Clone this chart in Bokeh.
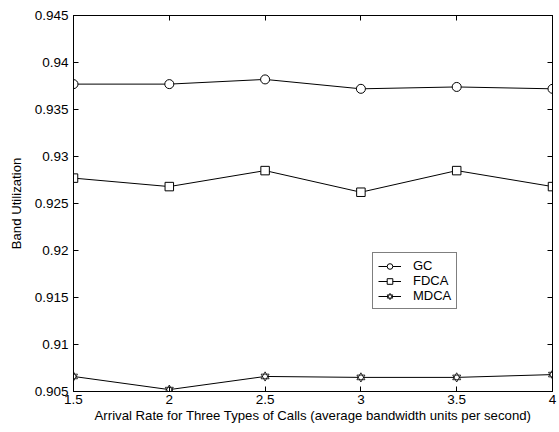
from bokeh.plotting import figure
from bokeh.models import (LinearAxis, FixedTicker, CustomJSTickFormatter, Range1d,
                          Legend, LegendItem)
from bokeh.embed import file_html
from bokeh.resources import INLINE

x = [1.5, 2, 2.5, 3, 3.5, 4]
gc = [0.9377, 0.9377, 0.9382, 0.9372, 0.9374, 0.9372]
fdca = [0.9277, 0.9268, 0.9285, 0.9262, 0.9285, 0.9268]
mdca = [0.9066, 0.9052, 0.9066, 0.9065, 0.9065, 0.9068]
x_ticks = [1.5, 2, 2.5, 3, 3.5, 4]
y_ticks = [0.905, 0.91, 0.915, 0.92, 0.925, 0.93, 0.935, 0.94, 0.945]
x_label = "Arrival Rate for Three Types of Calls (average bandwidth units per second)"
y_label = "Band Utilization"

FONT = "Liberation Sans"

p = figure(width=559, height=432, output_backend="svg", toolbar_location=None,
           x_range=Range1d(1.5, 4), y_range=Range1d(0.905, 0.945),
           min_border_left=73, min_border_right=7, min_border_top=15, min_border_bottom=41,
           x_axis_location=None, y_axis_location=None)
p.grid.visible = False
p.outline_line_color = "black"
p.outline_line_width = 1
p.background_fill_color = "white"
p.border_fill_color = "white"

fmt = CustomJSTickFormatter(code="return String(Math.round(tick*1000)/1000);")
blank = CustomJSTickFormatter(code="return '';")

def style(ax, ticks, labels=True):
    ax.ticker = FixedTicker(ticks=ticks)
    ax.formatter = fmt if labels else blank
    ax.major_tick_in = 5
    ax.major_tick_out = 0
    ax.minor_tick_in = 0
    ax.minor_tick_out = 0
    ax.axis_line_color = "black"
    ax.major_tick_line_color = "black"
    ax.major_label_text_font = FONT
    ax.major_label_text_font_size = "13.5px"
    ax.major_label_text_color = "black"
    ax.axis_label_text_font = FONT
    ax.axis_label_text_font_size = "13.2px"
    ax.axis_label_text_font_style = "normal"
    ax.axis_label_text_color = "black"

bottom = LinearAxis(axis_label=x_label)
style(bottom, x_ticks)
bottom.major_label_standoff = 3
bottom.axis_label_standoff = 1
left = LinearAxis(axis_label=y_label)
style(left, y_ticks)
left.major_label_standoff = 5
left.axis_label_standoff = 8
right = LinearAxis()
style(right, y_ticks, labels=False)
right.major_label_standoff = 0
top = LinearAxis()
style(top, x_ticks, labels=False)
top.major_label_standoff = 0
p.add_layout(bottom, "below")
p.add_layout(left, "left")
p.add_layout(right, "right")
p.add_layout(top, "above")

l1 = p.line(x, gc, line_color="black", line_width=1)
m1 = p.scatter(x, gc, marker="circle", size=9, fill_color="white", line_color="black", line_width=1)
l2 = p.line(x, fdca, line_color="black", line_width=1)
m2 = p.scatter(x, fdca, marker="square", size=8.5, fill_color="white", line_color="black", line_width=1)
l3 = p.line(x, mdca, line_color="black", line_width=1)
m3a = p.scatter(x, mdca, marker="triangle", size=8, fill_color="white", line_color="black", line_width=0.8)
m3b = p.scatter(x, mdca, marker="inverted_triangle", size=8, fill_color=None, line_color="black", line_width=0.8)

legend = Legend(items=[LegendItem(label="GC", renderers=[l1, m1]),
                       LegendItem(label="FDCA", renderers=[l2, m2]),
                       LegendItem(label="MDCA", renderers=[l3, m3a, m3b])],
                location=(299, 82))
legend.padding = 5
legend.spacing = 0
legend.margin = 0
legend.glyph_width = 23
legend.glyph_height = 14
legend.label_height = 14
legend.label_standoff = 12
legend.label_text_font = FONT
legend.label_text_font_size = "13px"
legend.label_text_color = "black"
legend.border_line_color = "black"
legend.border_line_width = 1
legend.background_fill_color = "white"
legend.background_fill_alpha = 1
p.add_layout(legend, "center")

open("out.html", "w").write(file_html(p, INLINE))
